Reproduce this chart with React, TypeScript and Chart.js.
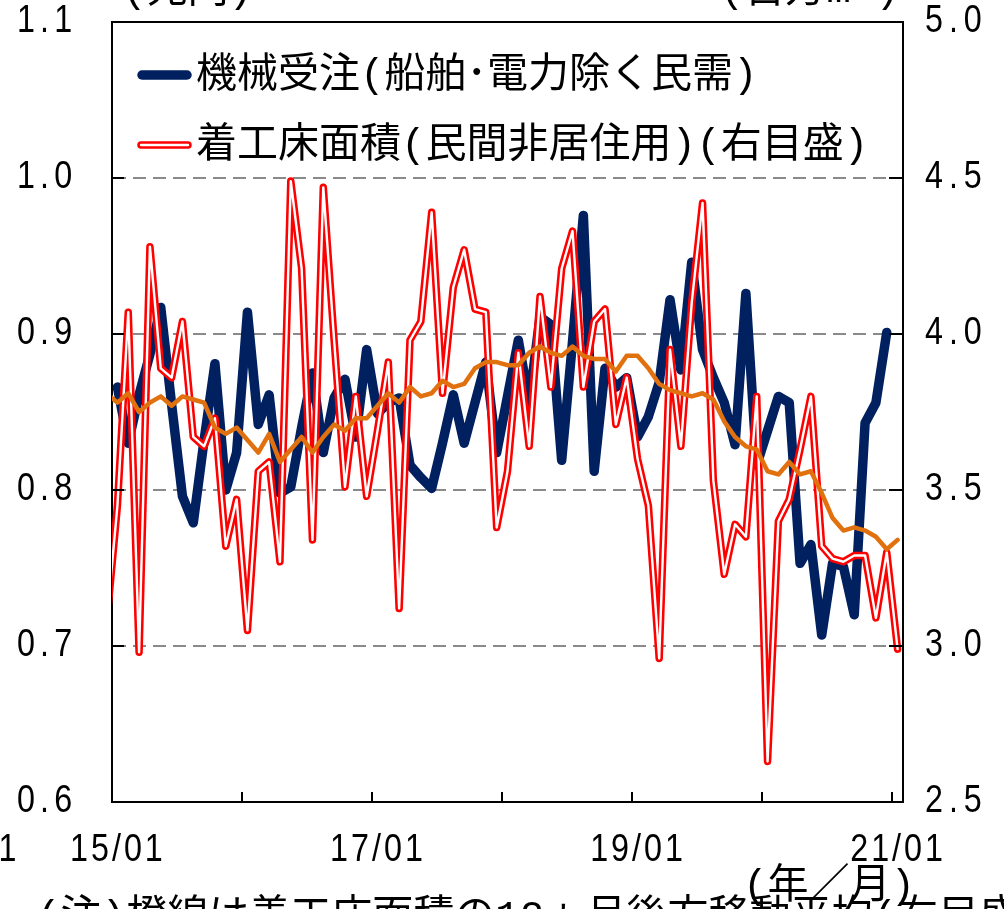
import React, { useEffect, useRef } from 'react';
import { Chart, registerables } from 'chart.js';

Chart.register(...registerables);

// ---------- categories (monthly, 2014/12 .. 2021/01; x value 0 = 15/01) ----------
const months: string[] = (() => {
  const out: string[] = [];
  for (let y = 2014; y <= 2021; y++) {
    for (let m = 1; m <= 12; m++) {
      if ((y === 2014 && m < 12) || (y === 2021 && m > 1)) continue;
      out.push(`${String(y % 100).padStart(2, '0')}/${String(m).padStart(2, '0')}`);
    }
  }
  return out;
})();

const xTickLabels = ['15/01', '17/01', '19/01', '21/01'];

// 機械受注（船舶・電力除く民需） 兆円, 15/01 .. 20/12
const machineryOrders = [
  0.866, 0.830, 0.861, 0.887, 0.917, 0.855, 0.796, 0.779, 0.832, 0.881, 0.800, 0.824,
  0.914, 0.842, 0.861, 0.798, 0.802, 0.840, 0.875, 0.824, 0.859, 0.871, 0.834, 0.890,
  0.849, 0.856, 0.859, 0.816, 0.808, 0.801, 0.830, 0.861, 0.830, 0.856, 0.882, 0.824,
  0.860, 0.896, 0.856, 0.911, 0.906, 0.819, 0.895, 0.976, 0.812, 0.878, 0.866, 0.872,
  0.834, 0.847, 0.869, 0.922, 0.877, 0.946, 0.890, 0.872, 0.856, 0.829, 0.926, 0.816,
  0.838, 0.860, 0.856, 0.753, 0.765, 0.707, 0.753, 0.751, 0.720, 0.843, 0.856, 0.901,
];
const machineryStart = '15/01';

// 着工床面積（民間非居住用） 百万m², 14/12 .. 21/01
const floorArea = [
  3.07,
  3.45, 4.07, 2.98, 4.28, 3.89, 3.86, 4.04, 3.67, 3.64, 3.73, 3.32, 3.47,
  3.05, 3.56, 3.59, 3.27, 4.49, 4.21, 3.34, 4.47, 3.98, 3.51, 3.80, 3.48,
  3.69, 3.91, 3.12, 3.98, 4.04, 4.39, 3.81, 4.15, 4.27, 4.08, 4.07, 3.38,
  3.56, 3.94, 3.64, 4.12, 3.83, 4.21, 4.33, 3.83, 4.04, 4.08, 3.71, 3.86,
  3.60, 3.45, 2.96, 3.95, 3.64, 4.10, 4.42, 3.53, 3.23, 3.39, 3.35, 3.80,
  2.63, 3.40, 3.47, 3.63, 3.80, 3.32, 3.28, 3.27, 3.29, 3.29, 3.09, 3.30,
  2.99,
];
// 着工床面積 12ヵ月後方移動平均, 14/12 .. 21/01
const floorAreaMA = [
  3.81,
  3.78, 3.81, 3.75, 3.78, 3.80, 3.77, 3.80, 3.79, 3.78, 3.70, 3.68, 3.70,
  3.66, 3.62, 3.68, 3.59, 3.63, 3.67, 3.62, 3.67, 3.71, 3.69, 3.73, 3.73,
  3.77, 3.81, 3.78, 3.83, 3.80, 3.81, 3.85, 3.83, 3.84, 3.89, 3.91, 3.91,
  3.90, 3.90, 3.94, 3.96, 3.94, 3.93, 3.96, 3.93, 3.92, 3.92, 3.88, 3.93,
  3.93, 3.89, 3.84, 3.82, 3.81, 3.80, 3.81, 3.79, 3.72, 3.67, 3.64, 3.63,
  3.56, 3.55, 3.59, 3.55, 3.56, 3.49, 3.41, 3.37, 3.38, 3.37, 3.35, 3.31,
  3.34,
];
const floorStart = '14/12';

const legendLabels = ['機械受注(船舶･電力除く民需)', '着工床面積(民間非居住用)(右目盛)'];
const leftUnit = '(兆円)';
const rightUnit = '(百万m²)';
const xUnit = '(年／月)';
const noteText = '(注)橙線は着工床面積の12ヵ月後方移動平均(右目盛)';

const NAVY = '#002060';
const RED = '#ff0000';
const ORANGE = '#e1700f';
const JP_FONT = '41px "Liberation Mono", "Noto Sans CJK JP", "Noto Sans CJK SC", sans-serif';
const NUM_FONT = '38px "Liberation Sans", Arial, sans-serif';

const xOf = (label: string) => months.indexOf(label) - months.indexOf('15/01');
const toPoints = (vals: number[], start: string) =>
  vals.map((v, k) => ({ x: xOf(start) + k, y: v }));

function numText(
  ctx: CanvasRenderingContext2D,
  text: string,
  x: number,
  y: number,
  align: CanvasTextAlign,
  spacing: number,
) {
  ctx.save();
  ctx.translate(x, y);
  ctx.scale(0.85, 1);
  ctx.font = NUM_FONT;
  (ctx as any).letterSpacing = `${spacing}px`;
  ctx.fillStyle = '#000';
  ctx.textAlign = align;
  ctx.textBaseline = 'middle';
  ctx.fillText(text, 0, 0);
  ctx.restore();
}

const decorPlugin = {
  id: 'decor',
  afterDraw(chart: any) {
    const { ctx, chartArea: a, scales } = chart;
    const ys = scales.y;
    const ys1 = scales.y1;
    const xs = scales.x;
    ctx.save();
    // top frame
    ctx.strokeStyle = '#000';
    ctx.lineWidth = 2;
    ctx.beginPath();
    ctx.moveTo(a.left - 1, a.top);
    ctx.lineTo(a.right + 1, a.top);
    ctx.stroke();
    // inner tick marks + labels
    ys.ticks.forEach((t: any) => {
      const py = Math.round(ys.getPixelForValue(t.value));
      ctx.beginPath();
      ctx.moveTo(a.left, py);
      ctx.lineTo(a.left + 12, py);
      ctx.stroke();
      numText(ctx, t.value.toFixed(1), 17, py, 'left', 6);
    });
    ys1.ticks.forEach((t: any) => {
      const py = Math.round(ys1.getPixelForValue(t.value));
      ctx.beginPath();
      ctx.moveTo(a.right - 14, py);
      ctx.lineTo(a.right, py);
      ctx.stroke();
      numText(ctx, t.value.toFixed(1), 925, py, 'left', 7);
    });
    months.forEach((m) => {
      if (!m.endsWith('/01')) return;
      const v = xOf(m) - 0.5;
      if (v <= xs.min || v >= xs.max) return;
      const px = Math.round(xs.getPixelForValue(v));
      ctx.beginPath();
      ctx.moveTo(px, a.bottom);
      ctx.lineTo(px, a.bottom - 10);
      ctx.stroke();
    });
    xTickLabels.forEach((lab) => {
      const px = xs.getPixelForValue(xOf(lab));
      numText(ctx, lab, px + 0.5, 851, 'center', 3.5);
    });
    numText(ctx, '1', 9, 851, 'center', 3.5);

    // legend
    ctx.lineCap = 'round';
    ctx.strokeStyle = NAVY;
    ctx.lineWidth = 9.5;
    ctx.beginPath();
    ctx.moveTo(142, 75);
    ctx.lineTo(187, 75);
    ctx.stroke();
    ctx.strokeStyle = RED;
    ctx.lineWidth = 7.5;
    ctx.beginPath();
    ctx.moveTo(141, 145);
    ctx.lineTo(188, 145);
    ctx.stroke();
    ctx.strokeStyle = '#fff';
    ctx.lineWidth = 2.4;
    ctx.beginPath();
    ctx.moveTo(141, 145);
    ctx.lineTo(188, 145);
    ctx.stroke();

    ctx.fillStyle = '#000';
    ctx.font = JP_FONT;
    ctx.textBaseline = 'middle';
    ctx.textAlign = 'left';
    ctx.fillText(legendLabels[0], 196, 76);
    ctx.fillText(legendLabels[1], 196, 146);

    // units / notes (partly outside the picture)
    ctx.fillText(leftUnit, 122, -9);
    ctx.textAlign = 'right';
    ctx.fillText(rightUnit, 900, -9);
    ctx.textAlign = 'center';
    ctx.fillText(xUnit, 829, 887);
    ctx.textAlign = 'left';
    ctx.textBaseline = 'top';
    ctx.fillText(noteText, 36, 898);
    ctx.restore();
  },
};

export default function App() {
  const ref = useRef<HTMLCanvasElement | null>(null);

  useEffect(() => {
    if (!ref.current) return;
    const common = {
      pointRadius: 0,
      pointHoverRadius: 0,
      tension: 0,
      borderJoinStyle: 'round' as const,
      borderCapStyle: 'round' as const,
      clip: 0,
      fill: false,
    };
    const chart = new Chart(ref.current, {
      type: 'line',
      data: {
        datasets: [
          {
            ...common,
            label: '移動平均',
            data: toPoints(floorAreaMA, floorStart),
            yAxisID: 'y1',
            borderColor: ORANGE,
            borderWidth: 4.5,
            order: 0,
          },
          {
            ...common,
            label: 'inner',
            data: toPoints(floorArea, floorStart),
            yAxisID: 'y1',
            borderColor: '#ffffff',
            borderWidth: 2.4,
            order: 1,
          },
          {
            ...common,
            label: legendLabels[1],
            data: toPoints(floorArea, floorStart),
            yAxisID: 'y1',
            borderColor: RED,
            borderWidth: 7.5,
            order: 2,
          },
          {
            ...common,
            label: legendLabels[0],
            data: toPoints(machineryOrders, machineryStart),
            yAxisID: 'y',
            borderColor: NAVY,
            borderWidth: 9.5,
            order: 3,
          },
        ],
      },
      options: {
        responsive: false,
        animation: false,
        devicePixelRatio: 1,
        events: [],
        layout: { padding: { top: 22, left: 0, right: 0, bottom: 0 } },
        plugins: { legend: { display: false }, tooltip: { enabled: false } },
        scales: {
          x: {
            type: 'linear',
            min: -0.5,
            max: 72.5,
            grid: { display: false },
            border: { display: true, color: '#000', width: 2 },
            ticks: { display: false },
            afterFit: (s: any) => { s.height = 107; },
          },
          y: {
            position: 'left',
            min: 0.6,
            max: 1.1,
            ticks: { display: false, stepSize: 0.1 },
            grid: { color: '#8a8a8a', lineWidth: 2, drawTicks: false },
            border: { display: true, color: '#000', width: 2, dash: [13, 7] },
            afterFit: (s: any) => { s.width = 112; },
          },
          y1: {
            position: 'right',
            min: 2.5,
            max: 5.0,
            ticks: { display: false, stepSize: 0.5 },
            grid: { display: false, drawTicks: false },
            border: { display: true, color: '#000', width: 2 },
            afterFit: (s: any) => { s.width = 101; },
          },
        },
      } as any,
      plugins: [decorPlugin],
    });
    return () => chart.destroy();
  }, []);

  return (
    <div style={{ position: 'absolute', left: 0, top: 0, width: 1004, height: 909, background: '#fff' }}>
      <canvas ref={ref} width={1004} height={909} style={{ display: 'block' }} />
    </div>
  );
}
